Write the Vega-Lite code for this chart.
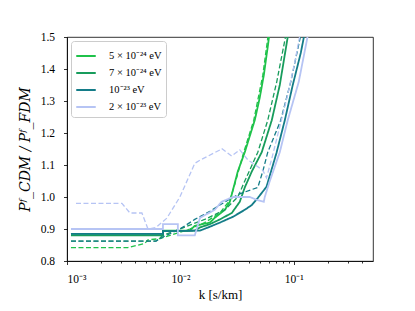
{
  "$schema": "https://vega.github.io/schema/vega-lite/v6.json",
  "width": 306,
  "height": 224,
  "autosize": "none",
  "padding": {"left": 67, "top": 37, "right": 42, "bottom": 50},
  "background": "white",
  "config": {
    "font": "Liberation Serif",
    "view": {"stroke": "black", "strokeWidth": 0.8},
    "axis": {"grid": false, "domainColor": "black", "domainWidth": 0.8, "tickColor": "black", "tickWidth": 0.8, "labelColor": "black", "titleColor": "black", "labelFont": "Liberation Serif", "titleFont": "Liberation Serif", "labelFontSize": 11.5, "titleFontWeight": "normal"}
  },
  "data": {"values": [
    {"m":"a","s":"solid","i":0,"k":0.001084,"r":0.885},
    {"m":"a","s":"solid","i":1,"k":0.00702,"r":0.885},
    {"m":"a","s":"solid","i":2,"k":0.00702,"r":0.895},
    {"m":"a","s":"solid","i":3,"k":0.0121,"r":0.895},
    {"m":"a","s":"solid","i":4,"k":0.0134,"r":0.91},
    {"m":"a","s":"solid","i":5,"k":0.0182,"r":0.92},
    {"m":"a","s":"solid","i":6,"k":0.0201,"r":0.935},
    {"m":"a","s":"solid","i":7,"k":0.0247,"r":0.96},
    {"m":"a","s":"solid","i":8,"k":0.0273,"r":0.985},
    {"m":"a","s":"solid","i":9,"k":0.029,"r":1.02},
    {"m":"a","s":"solid","i":10,"k":0.0321,"r":1.08},
    {"m":"a","s":"solid","i":11,"k":0.037,"r":1.14},
    {"m":"a","s":"solid","i":12,"k":0.0409,"r":1.19},
    {"m":"a","s":"solid","i":13,"k":0.0453,"r":1.24},
    {"m":"a","s":"solid","i":14,"k":0.0501,"r":1.31},
    {"m":"a","s":"solid","i":15,"k":0.0544,"r":1.38},
    {"m":"a","s":"solid","i":16,"k":0.059,"r":1.47},
    {"m":"a","s":"solid","i":17,"k":0.0615,"r":1.52},

    {"m":"a","s":"dashed","i":0,"k":0.001084,"r":0.842},
    {"m":"a","s":"dashed","i":1,"k":0.00344,"r":0.842},
    {"m":"a","s":"dashed","i":2,"k":0.00486,"r":0.855},
    {"m":"a","s":"dashed","i":3,"k":0.00518,"r":0.866},
    {"m":"a","s":"dashed","i":4,"k":0.0066,"r":0.87},
    {"m":"a","s":"dashed","i":5,"k":0.0081,"r":0.88},
    {"m":"a","s":"dashed","i":6,"k":0.0121,"r":0.9},
    {"m":"a","s":"dashed","i":7,"k":0.0164,"r":0.92},
    {"m":"a","s":"dashed","i":8,"k":0.0223,"r":0.95},
    {"m":"a","s":"dashed","i":9,"k":0.0273,"r":0.99},
    {"m":"a","s":"dashed","i":10,"k":0.0302,"r":1.04},
    {"m":"a","s":"dashed","i":11,"k":0.0362,"r":1.14},
    {"m":"a","s":"dashed","i":12,"k":0.0444,"r":1.24},
    {"m":"a","s":"dashed","i":13,"k":0.0533,"r":1.38},
    {"m":"a","s":"dashed","i":14,"k":0.0602,"r":1.52},

    {"m":"b","s":"solid","i":0,"k":0.001084,"r":0.88},
    {"m":"b","s":"solid","i":1,"k":0.00702,"r":0.88},
    {"m":"b","s":"solid","i":2,"k":0.00702,"r":0.893},
    {"m":"b","s":"solid","i":3,"k":0.0134,"r":0.895},
    {"m":"b","s":"solid","i":4,"k":0.0149,"r":0.905},
    {"m":"b","s":"solid","i":5,"k":0.0182,"r":0.915},
    {"m":"b","s":"solid","i":6,"k":0.0223,"r":0.93},
    {"m":"b","s":"solid","i":7,"k":0.0284,"r":0.95},
    {"m":"b","s":"solid","i":8,"k":0.0334,"r":0.985},
    {"m":"b","s":"solid","i":9,"k":0.037,"r":1.03},
    {"m":"b","s":"solid","i":10,"k":0.0427,"r":1.08},
    {"m":"b","s":"solid","i":11,"k":0.0522,"r":1.14},
    {"m":"b","s":"solid","i":12,"k":0.064,"r":1.24},
    {"m":"b","s":"solid","i":13,"k":0.0753,"r":1.35},
    {"m":"b","s":"solid","i":14,"k":0.0885,"r":1.5},
    {"m":"b","s":"solid","i":15,"k":0.0922,"r":1.53},

    {"m":"b","s":"dashed","i":0,"k":0.001084,"r":0.862},
    {"m":"b","s":"dashed","i":1,"k":0.00608,"r":0.862},
    {"m":"b","s":"dashed","i":2,"k":0.00702,"r":0.88},
    {"m":"b","s":"dashed","i":3,"k":0.0099,"r":0.9},
    {"m":"b","s":"dashed","i":4,"k":0.0164,"r":0.93},
    {"m":"b","s":"dashed","i":5,"k":0.0247,"r":0.96},
    {"m":"b","s":"dashed","i":6,"k":0.0321,"r":1.0},
    {"m":"b","s":"dashed","i":7,"k":0.037,"r":1.05},
    {"m":"b","s":"dashed","i":8,"k":0.0482,"r":1.14},
    {"m":"b","s":"dashed","i":9,"k":0.059,"r":1.24},
    {"m":"b","s":"dashed","i":10,"k":0.0708,"r":1.36},
    {"m":"b","s":"dashed","i":11,"k":0.0867,"r":1.52},

    {"m":"c","s":"solid","i":0,"k":0.001084,"r":0.885},
    {"m":"c","s":"solid","i":1,"k":0.00702,"r":0.885},
    {"m":"c","s":"solid","i":2,"k":0.00702,"r":0.893},
    {"m":"c","s":"solid","i":3,"k":0.0149,"r":0.895},
    {"m":"c","s":"solid","i":4,"k":0.0182,"r":0.907},
    {"m":"c","s":"solid","i":5,"k":0.0223,"r":0.92},
    {"m":"c","s":"solid","i":6,"k":0.029,"r":0.938},
    {"m":"c","s":"solid","i":7,"k":0.037,"r":0.96},
    {"m":"c","s":"solid","i":8,"k":0.0427,"r":0.975},
    {"m":"c","s":"solid","i":9,"k":0.0482,"r":0.997},
    {"m":"c","s":"solid","i":10,"k":0.0575,"r":1.032},
    {"m":"c","s":"solid","i":11,"k":0.0704,"r":1.1375},
    {"m":"c","s":"solid","i":12,"k":0.0834,"r":1.24},
    {"m":"c","s":"solid","i":13,"k":0.098,"r":1.35},
    {"m":"c","s":"solid","i":14,"k":0.1153,"r":1.45},
    {"m":"c","s":"solid","i":15,"k":0.1277,"r":1.53},

    {"m":"c","s":"dashed","i":0,"k":0.001084,"r":0.862},
    {"m":"c","s":"dashed","i":1,"k":0.00608,"r":0.862},
    {"m":"c","s":"dashed","i":2,"k":0.00702,"r":0.875},
    {"m":"c","s":"dashed","i":3,"k":0.0099,"r":0.9},
    {"m":"c","s":"dashed","i":4,"k":0.0134,"r":0.93},
    {"m":"c","s":"dashed","i":5,"k":0.0182,"r":0.955},
    {"m":"c","s":"dashed","i":6,"k":0.0223,"r":0.975},
    {"m":"c","s":"dashed","i":7,"k":0.0262,"r":0.99},
    {"m":"c","s":"dashed","i":8,"k":0.0334,"r":1.01},
    {"m":"c","s":"dashed","i":9,"k":0.0482,"r":1.03},
    {"m":"c","s":"dashed","i":10,"k":0.0533,"r":1.08},
    {"m":"c","s":"dashed","i":11,"k":0.059,"r":1.14},
    {"m":"c","s":"dashed","i":12,"k":0.0768,"r":1.24},
    {"m":"c","s":"dashed","i":13,"k":0.0941,"r":1.36},
    {"m":"c","s":"dashed","i":14,"k":0.1175,"r":1.52},

    {"m":"d","s":"solid","i":0,"k":0.001084,"r":0.90},
    {"m":"d","s":"solid","i":1,"k":0.00702,"r":0.90},
    {"m":"d","s":"solid","i":2,"k":0.00702,"r":0.915},
    {"m":"d","s":"solid","i":3,"k":0.0095,"r":0.915},
    {"m":"d","s":"solid","i":4,"k":0.0095,"r":0.88},
    {"m":"d","s":"solid","i":5,"k":0.0134,"r":0.88},
    {"m":"d","s":"solid","i":6,"k":0.0149,"r":0.935},
    {"m":"d","s":"solid","i":7,"k":0.0201,"r":0.96},
    {"m":"d","s":"solid","i":8,"k":0.0231,"r":0.985},
    {"m":"d","s":"solid","i":9,"k":0.029,"r":1.0},
    {"m":"d","s":"solid","i":10,"k":0.0409,"r":1.0},
    {"m":"d","s":"solid","i":11,"k":0.0482,"r":0.99},
    {"m":"d","s":"solid","i":12,"k":0.0544,"r":0.985},
    {"m":"d","s":"solid","i":13,"k":0.0555,"r":1.0},
    {"m":"d","s":"solid","i":14,"k":0.0615,"r":1.05},
    {"m":"d","s":"solid","i":15,"k":0.0753,"r":1.14},
    {"m":"d","s":"solid","i":16,"k":0.0885,"r":1.24},
    {"m":"d","s":"solid","i":17,"k":0.1107,"r":1.36},
    {"m":"d","s":"solid","i":18,"k":0.1356,"r":1.52},

    {"m":"d","s":"dashed","i":0,"k":0.0012,"r":0.98},
    {"m":"d","s":"dashed","i":1,"k":0.00305,"r":0.98},
    {"m":"d","s":"dashed","i":2,"k":0.00359,"r":0.95},
    {"m":"d","s":"dashed","i":3,"k":0.00458,"r":0.95},
    {"m":"d","s":"dashed","i":4,"k":0.00518,"r":0.90},
    {"m":"d","s":"dashed","i":5,"k":0.0061,"r":0.905},
    {"m":"d","s":"dashed","i":6,"k":0.0076,"r":0.934},
    {"m":"d","s":"dashed","i":7,"k":0.0099,"r":1.0},
    {"m":"d","s":"dashed","i":8,"k":0.0134,"r":1.105},
    {"m":"d","s":"dashed","i":9,"k":0.0149,"r":1.115},
    {"m":"d","s":"dashed","i":10,"k":0.0223,"r":1.147},
    {"m":"d","s":"dashed","i":11,"k":0.0231,"r":1.152},
    {"m":"d","s":"dashed","i":12,"k":0.0283,"r":1.128},
    {"m":"d","s":"dashed","i":13,"k":0.0334,"r":1.147},
    {"m":"d","s":"dashed","i":14,"k":0.0394,"r":1.116},
    {"m":"d","s":"dashed","i":15,"k":0.0533,"r":1.084},
    {"m":"d","s":"dashed","i":16,"k":0.0575,"r":1.06},
    {"m":"d","s":"dashed","i":17,"k":0.064,"r":1.12},
    {"m":"d","s":"dashed","i":18,"k":0.0753,"r":1.22},
    {"m":"d","s":"dashed","i":19,"k":0.0885,"r":1.32},
    {"m":"d","s":"dashed","i":20,"k":0.102,"r":1.42},
    {"m":"d","s":"dashed","i":21,"k":0.1153,"r":1.52}
  ]},
  "mark": {"type": "line", "clip": true, "strokeCap": "butt"},
  "encoding": {
    "x": {
      "field": "k", "type": "quantitative",
      "scale": {"type": "log", "domain": [0.001, 0.5], "nice": false},
      "axis": {
        "title": "k [s/km]",
        "titleFontSize": 13,
        "titlePadding": 3,
        "values": [0.001,0.002,0.003,0.004,0.005,0.006,0.007,0.008,0.009,0.01,0.02,0.03,0.04,0.05,0.06,0.07,0.08,0.09,0.1,0.2,0.3,0.4],
        "labelExpr": "datum.value == 0.001 ? '10⁻³' : datum.value == 0.01 ? '10⁻²' : datum.value == 0.1 ? '10⁻¹' : ''",
        "labelOverlap": false,
        "labelPadding": 9,
        "tickSize": {"condition": {"test": "datum.value == 0.001 || datum.value == 0.01 || datum.value == 0.1", "value": 3.5}, "value": 2}
      }
    },
    "y": {
      "field": "r", "type": "quantitative",
      "scale": {"domain": [0.8, 1.5], "nice": false, "zero": false},
      "axis": {
        "title": "Pᶠ_CDM / Pᶠ_FDM",
        "titleFont": "DejaVu Serif",
        "titleFontSize": 14,
        "titleFontStyle": "italic",
        "titlePadding": 8,
        "values": [0.8,0.9,1.0,1.1,1.2,1.3,1.4,1.5],
        "format": ".1f",
        "labelPadding": 9,
        "tickSize": 3.5
      }
    },
    "color": {
      "field": "m", "type": "nominal",
      "scale": {"domain": ["a","b","c","d"], "range": ["#1fc24a", "#189c5c", "#147c88", "#b6c4f4"]},
      "legend": {
        "title": null,
        "orient": "top-left",
        "offset": 4,
        "padding": 4,
        "fillColor": "white",
        "strokeColor": "#cccccc",
        "cornerRadius": 3,
        "symbolType": "stroke",
        "symbolSize": 380,
        "symbolStrokeWidth": 2,
        "labelFont": "Liberation Serif",
        "labelFontSize": 10.5,
        "labelOffset": 12,
        "labelColor": "black",
        "rowPadding": -4,
        "labelExpr": "datum.value == 'a' ? '5 × 10⁻²⁴ eV' : datum.value == 'b' ? '7 × 10⁻²⁴ eV' : datum.value == 'c' ? '10⁻²³ eV' : '2 × 10⁻²³ eV'"
      }
    },
    "strokeDash": {
      "field": "s", "type": "nominal",
      "scale": {"domain": ["solid", "dashed"], "range": [[1, 0], [5, 2.5]]},
      "legend": null
    },
    "strokeWidth": {
      "field": "s", "type": "nominal",
      "scale": {"domain": ["solid", "dashed"], "range": [1.8, 1.3]},
      "legend": null
    },
    "order": {"field": "i", "type": "quantitative"}
  }
}
